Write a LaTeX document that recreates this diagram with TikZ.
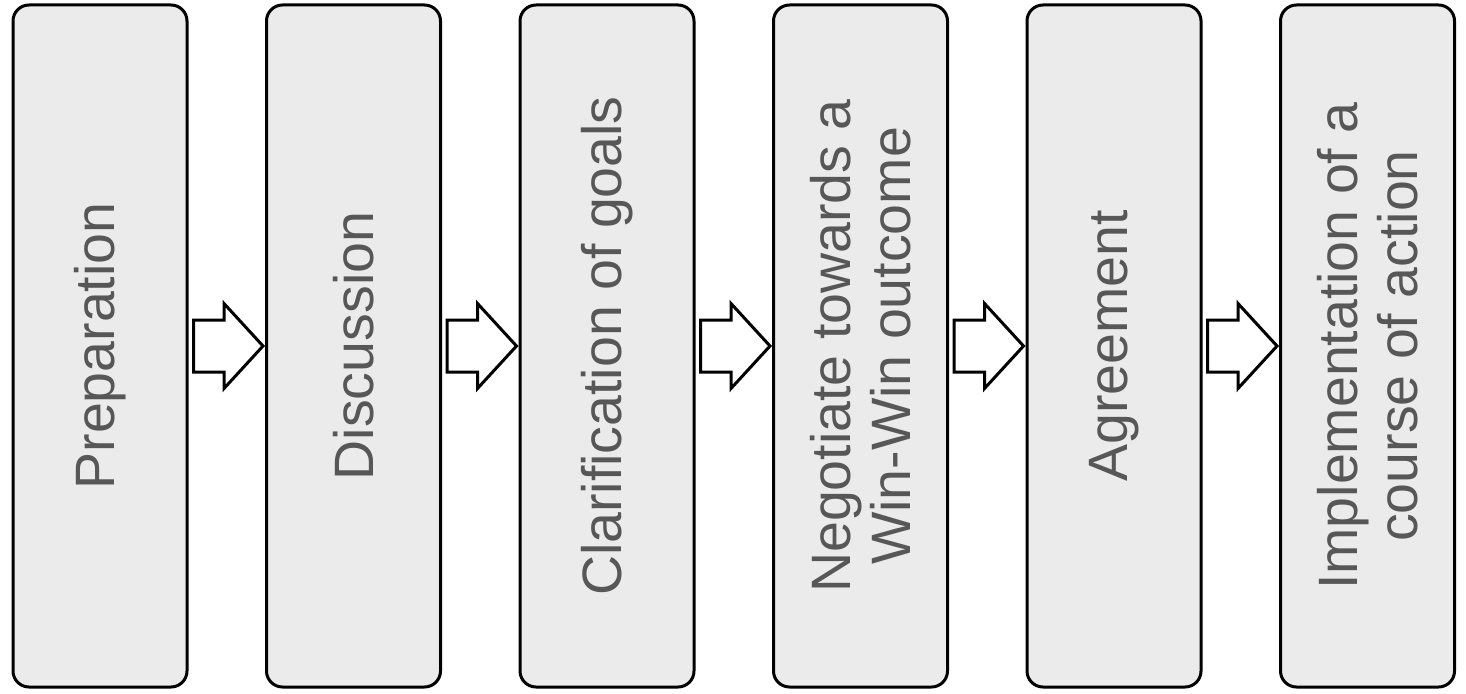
\documentclass[tikz,border=0pt]{standalone}
\usepackage{fontspec}
\setmainfont{Liberation Sans}
\usetikzlibrary{calc}
\tikzset{
  stage/.style={draw=black, line width=3pt, rounded corners=16pt,
    fill=black!8, text=black!66, rotate=90,
    minimum width=682pt, minimum height=174pt, inner sep=0pt,
    align=center, font=\fontsize{55.5}{60}\selectfont},
  flow/.style={draw=black, line width=3pt, fill=white, line join=miter}
}
\newcommand\stagearrow[2]{%
  \draw[flow] ($(#1.south)+(5,-26)$) -- ($(#2.north)+(-41,-26)$)
    -- ($(#2.north)+(-41,-42.5)$) -- ($(#2.north)+(-2,0)$)
    -- ($(#2.north)+(-41,42.5)$) -- ($(#2.north)+(-41,26)$)
    -- ($(#1.south)+(5,26)$) -- cycle;}
\begin{document}
\begin{tikzpicture}[x=1pt,y=-1pt]
  \useasboundingbox[fill=white] (0,0) rectangle (1466,693);
  \node[stage] (s1) at (100,346)    {Preparation};
  \node[stage] (s2) at (353.5,346)  {Discussion};
  \node[stage] (s3) at (607,346)    {Clarification of goals};
  \node[stage] (s4) at (860.5,346)  {Negotiate towards a\\Win-Win outcome};
  \node[stage] (s5) at (1114,346)   {Agreement};
  \node[stage] (s6) at (1367.5,346) {Implementation of a\\course of action};
  \stagearrow{s1}{s2}
  \stagearrow{s2}{s3}
  \stagearrow{s3}{s4}
  \stagearrow{s4}{s5}
  \stagearrow{s5}{s6}
\end{tikzpicture}
\end{document}
